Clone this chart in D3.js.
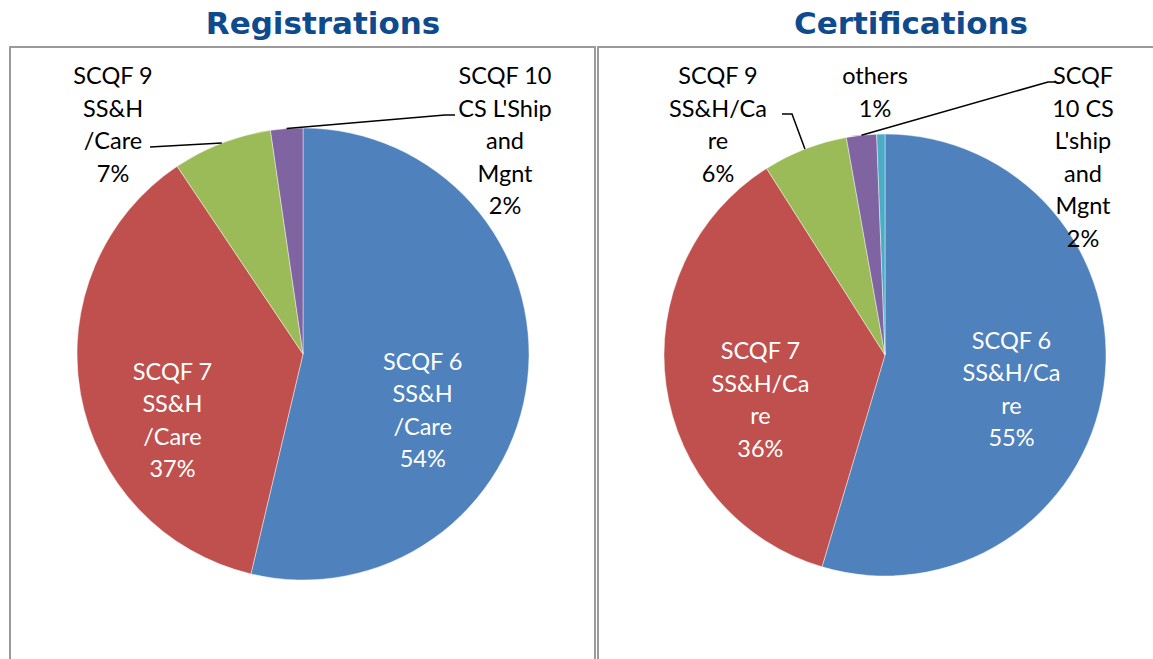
<!DOCTYPE html>
<html>
<head>
<meta charset="utf-8">
<script src="https://cdn.jsdelivr.net/npm/d3@7"></script>
<style>
  html, body { margin: 0; padding: 0; background: #fff; }
  svg { display: block; }
</style>
</head>
<body>
<div id="chart"></div>
<script>
//Datos
const regCategories = [["SCQF 6","SS&H","/Care"], ["SCQF 7","SS&H","/Care"], ["SCQF 9","SS&H","/Care"], ["SCQF 10","CS L'Ship","and","Mgnt"]];
const regValues = [53.7, 36.9, 7.1, 2.3];

const certCategories = [["SCQF 6","SS&H/Ca","re"], ["SCQF 7","SS&H/Ca","re"], ["SCQF 9","SS&H/Ca","re"], ["SCQF","10 CS","L'ship","and","Mgnt"], ["others"]];
const certValues = [54.6, 36.4, 6.2, 2.2, 0.6];

const sliceColors = ['#4F81BD', '#C0504D', '#9BBB59', '#8064A2', '#4BACC6'];

//Disposición (no son datos)
const width = 1153, height = 659;
const lineH = 32.5;

let charts = [
    {
        title: 'Registrations', categories: regCategories, values: regValues,
        box: {x: 10, y: 47, w: 585}, titleX: 323,
        cx: 303, cy: 354, r: 226,
        //etiquetas interiores: desplazamiento respecto al centroide
        inside: {0: [-6, -8], 1: [-6, -6]},
        //etiquetas exteriores: posición y codo de la guía
        outside: {
            2: {pos: [113, 75], leader: [[150, 147]]},
            3: {pos: [505, 75], leader: [[445, 115], [455, 115]]}
        }
    },
    {
        title: 'Certifications', categories: certCategories, values: certValues,
        box: {x: 598, y: 47, w: 600}, titleX: 911,
        cx: 885, cy: 355, r: 221,
        inside: {0: [4, -33], 1: [-2, -22]},
        outside: {
            2: {pos: [718, 75], leader: [[792, 114], [782, 114]]},
            3: {pos: [1083, 75], leader: [[1048, 82], [1055, 82]]},
            4: {pos: [875, 75], leader: null}
        }
    }
];

let svg = d3.select('#chart')
    .append('svg')
        .attr('width', width)
        .attr('height', height);

charts.forEach(function(c) {
    //Marco
    svg.append('rect')
        .attr('x', c.box.x)
        .attr('y', c.box.y)
        .attr('width', c.box.w)
        .attr('height', height)
        .attr('fill', 'none')
        .attr('stroke', '#9a9a9a')
        .attr('stroke-width', 2);

    //Título
    svg.append('text')
        .attr('x', c.titleX)
        .attr('y', 34)
        .attr('text-anchor', 'middle')
        .style('font-family', 'DejaVu Sans, Verdana, sans-serif')
        .style('font-weight', 'bold')
        .style('font-size', '31px')
        .style('fill', '#0e4a8e')
        .text(c.title);

    let total = d3.sum(c.values);
    let pie = d3.pie().sort(null).value(function(d) { return d; });
    let arcs = pie(c.values);

    let arc = d3.arc().innerRadius(0).outerRadius(c.r);
    let labelArc = d3.arc().innerRadius(c.r * 0.56).outerRadius(c.r * 0.56);
    let edgeArc = d3.arc().innerRadius(c.r).outerRadius(c.r);

    let g = svg.append('g')
        .attr('transform', 'translate(' + c.cx + ',' + c.cy + ')');

    g.selectAll('path')
        .data(arcs)
        .enter()
        .append('path')
        .attr('d', arc)
        .attr('fill', function(d, i) { return sliceColors[i]; })
        .attr('stroke', 'rgba(255,255,255,0.55)')
        .attr('stroke-width', 0.8);

    //Etiquetas
    arcs.forEach(function(d, i) {
        let lines = c.categories[i].concat([Math.round(d.value / total * 100) + '%']);
        let x, y, color;
        if (c.inside[i]) {
            let p = labelArc.centroid(d);
            x = c.cx + p[0] + c.inside[i][0];
            y = c.cy + p[1] + c.inside[i][1];
            color = '#fff';
        } else {
            let o = c.outside[i];
            x = o.pos[0];
            y = o.pos[1];
            color = '#000';
            if (o.leader) {
                let e = edgeArc.centroid(d);
                let pts = [[c.cx + e[0], c.cy + e[1]]].concat(o.leader);
                svg.append('path')
                    .attr('d', d3.line()(pts))
                    .attr('fill', 'none')
                    .attr('stroke', '#000')
                    .attr('stroke-width', 1.5);
            }
        }
        let t = svg.append('text')
            .attr('text-anchor', 'middle')
            .style('font-family', 'Lato, Calibri, sans-serif')
            .style('font-size', '23.5px')
            .style('fill', color);
        lines.forEach(function(l, k) {
            t.append('tspan')
                .attr('x', x)
                .attr('y', y + k * lineH)
                .attr('dominant-baseline', 'central')
                .text(l);
        });
    });
});
</script>
</body>
</html>
